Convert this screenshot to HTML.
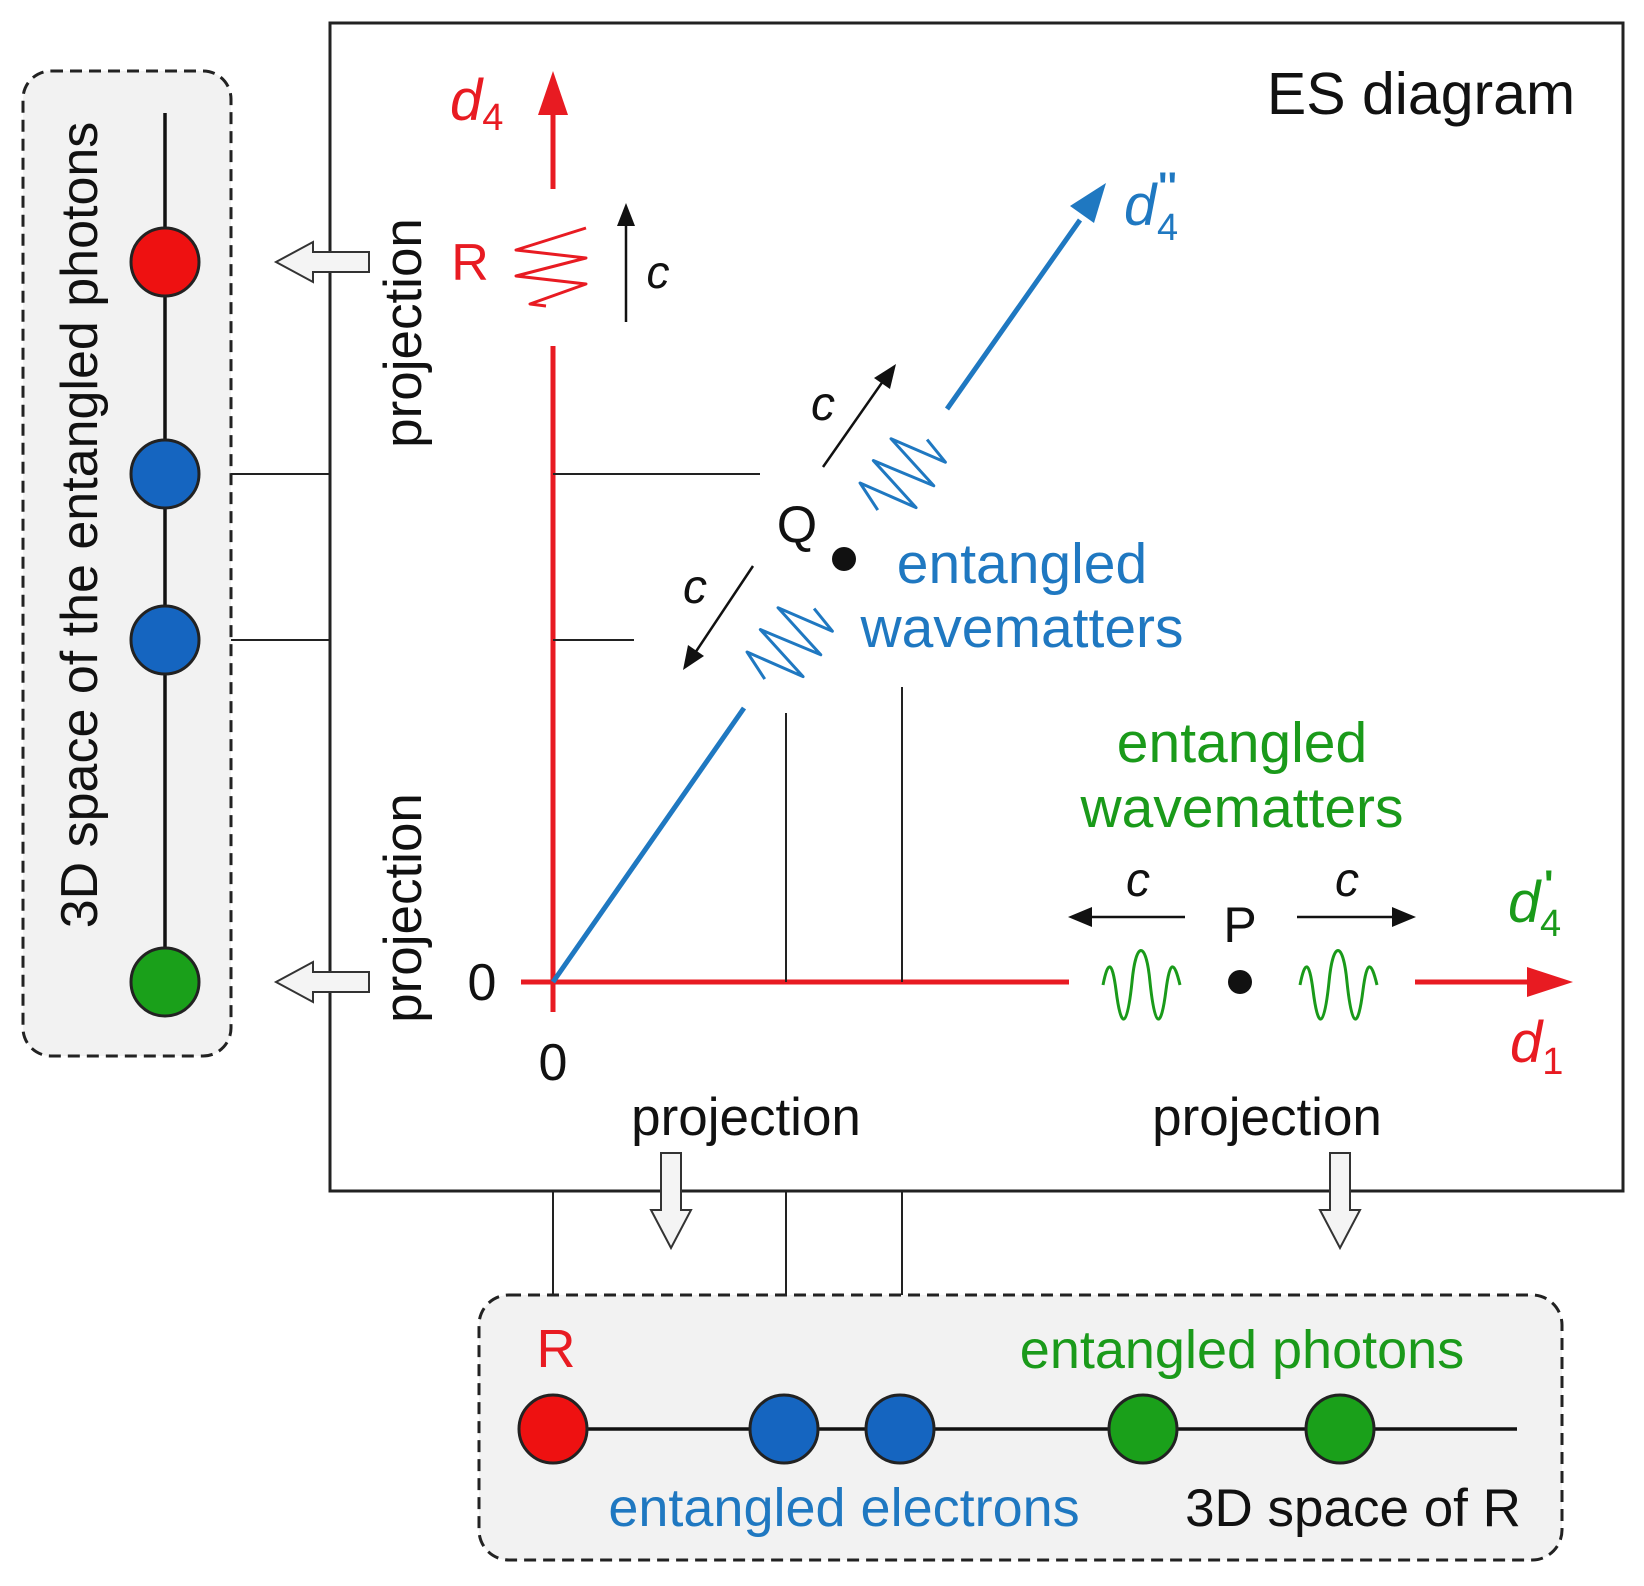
<!DOCTYPE html>
<html><head><meta charset="utf-8"><style>
html,body{margin:0;padding:0;background:#fff}
svg{display:block}
text{font-family:"Liberation Sans",Arial,sans-serif}
</style></head><body>
<svg width="1644" height="1586" viewBox="0 0 1644 1586" xmlns="http://www.w3.org/2000/svg">
<!-- main box -->
<rect x="330" y="23" width="1293" height="1168" fill="#fff" stroke="#222" stroke-width="3"/>
<!-- left dashed box -->
<rect x="23" y="71" width="208" height="985" rx="28" fill="#f2f2f2" stroke="#222" stroke-width="3" stroke-dasharray="12,7"/>
<line x1="165" y1="113" x2="165" y2="982" stroke="#111" stroke-width="3.5"/>
<circle cx="165" cy="262" r="34" fill="#ee1111" stroke="#222" stroke-width="3"/>
<circle cx="165" cy="474" r="34" fill="#1565c0" stroke="#222" stroke-width="3"/>
<circle cx="165" cy="640" r="34" fill="#1565c0" stroke="#222" stroke-width="3"/>
<circle cx="165" cy="982" r="34" fill="#1aa01a" stroke="#222" stroke-width="3"/>
<text transform="translate(97,525) rotate(-90)" text-anchor="middle" font-size="52" fill="#111">3D space of the entangled photons</text>
<!-- connectors left -->
<line x1="231" y1="474" x2="330" y2="474" stroke="#222" stroke-width="2"/>
<line x1="231" y1="640" x2="330" y2="640" stroke="#222" stroke-width="2"/>
<!-- hollow left arrows -->
<path d="M369,252 L313,252 L313,242 L276,262 L313,282 L313,272 L369,272 Z" fill="#f4f4f4" stroke="#333" stroke-width="2"/>
<path d="M369,972 L313,972 L313,962 L276,982 L313,1002 L313,992 L369,992 Z" fill="#f4f4f4" stroke="#333" stroke-width="2"/>
<text transform="translate(421,333) rotate(-90)" text-anchor="middle" font-size="53" fill="#111">projection</text>
<text transform="translate(421,908) rotate(-90)" text-anchor="middle" font-size="53" fill="#111">projection</text>
<!-- ES diagram -->
<text x="1421" y="114" text-anchor="middle" font-size="59" fill="#111">ES diagram</text>
<!-- red vertical axis -->
<line x1="553" y1="346" x2="553" y2="1012" stroke="#e81b22" stroke-width="5"/>
<line x1="553" y1="189" x2="553" y2="110" stroke="#e81b22" stroke-width="5"/>
<path d="M553,71 L538,115 L568,115 Z" fill="#e81b22"/>
<text x="450" y="120" font-size="58" font-style="italic" fill="#e81b22">d<tspan font-size="38" font-style="normal" dy="10">4</tspan></text>
<text x="470" y="280" text-anchor="middle" font-size="52" fill="#e81b22">R</text>
<path d="M586,228 L516,250 L586,258 L516,276 L586,284 L530,304 L546,306" fill="none" stroke="#e81b22" stroke-width="3" stroke-linejoin="round"/>
<line x1="626" y1="322" x2="626" y2="215" stroke="#111" stroke-width="2.5"/>
<path d="M626,203 L617,226 L635,226 Z" fill="#111"/>
<text x="658" y="288" text-anchor="middle" font-size="46" font-style="italic" fill="#111">c</text>
<!-- red horizontal axis -->
<line x1="521" y1="982" x2="1069" y2="982" stroke="#e81b22" stroke-width="5"/>
<line x1="1415" y1="982" x2="1530" y2="982" stroke="#e81b22" stroke-width="5"/>
<path d="M1573,982 L1527,967 L1527,997 Z" fill="#e81b22"/>
<text x="1508" y="922" font-size="58" font-style="italic" fill="#1a9a1a">d</text>
<text x="1540" y="936" font-size="38" fill="#1a9a1a">4</text>
<text x="1544" y="898" font-size="40" font-weight="bold" fill="#1a9a1a">'</text>
<text x="1510" y="1062" font-size="58" font-style="italic" fill="#e81b22">d<tspan font-size="38" font-style="normal" dy="12">1</tspan></text>
<text x="482" y="1000" text-anchor="middle" font-size="52" fill="#111">0</text>
<text x="553" y="1080" text-anchor="middle" font-size="52" fill="#111">0</text>
<!-- blue diagonal -->
<line x1="553" y1="982" x2="744" y2="708" stroke="#1f78c1" stroke-width="5"/>
<line x1="947" y1="409" x2="1080" y2="220" stroke="#1f78c1" stroke-width="5"/>
<path d="M1106,183 L1070,206 L1094,223 Z" fill="#1f78c1"/>
<text x="1124" y="225" font-size="58" font-style="italic" fill="#1f78c1">d</text>
<text x="1157" y="240" font-size="38" fill="#1f78c1">4</text>
<text x="1158" y="200" font-size="40" font-weight="bold" fill="#1f78c1">''</text>
<!-- blue waves -->
<g transform="translate(903,474) rotate(-55)">
<path d="M-44,0 L-32,-30 L-20,30 L-6,-32 L8,32 L22,-30 L34,28 L42,0" fill="none" stroke="#1f78c1" stroke-width="3" stroke-linejoin="round"/>
</g>
<g transform="translate(790,643) rotate(-55)">
<path d="M-44,0 L-32,-30 L-20,30 L-6,-32 L8,32 L22,-30 L34,28 L42,0" fill="none" stroke="#1f78c1" stroke-width="3" stroke-linejoin="round"/>
</g>
<!-- thin projection lines -->
<line x1="553" y1="474" x2="760" y2="474" stroke="#222" stroke-width="2"/>
<line x1="553" y1="640" x2="634" y2="640" stroke="#222" stroke-width="2"/>
<line x1="786" y1="713" x2="786" y2="982" stroke="#222" stroke-width="2"/>
<line x1="902" y1="687" x2="902" y2="982" stroke="#222" stroke-width="2"/>
<line x1="553" y1="1191" x2="553" y2="1295" stroke="#222" stroke-width="2"/>
<line x1="786" y1="1191" x2="786" y2="1295" stroke="#222" stroke-width="2"/>
<line x1="902" y1="1191" x2="902" y2="1295" stroke="#222" stroke-width="2"/>
<!-- Q -->
<text x="797" y="542" text-anchor="middle" font-size="52" fill="#111">Q</text>
<circle cx="844" cy="559" r="12" fill="#111"/>
<line x1="823" y1="467" x2="888" y2="374" stroke="#111" stroke-width="2.5"/>
<path d="M896,364 L874,378 L890,389 Z" fill="#111"/>
<text x="823" y="420" text-anchor="middle" font-size="48" font-style="italic" fill="#111">c</text>
<line x1="753" y1="566" x2="691" y2="659" stroke="#111" stroke-width="2.5"/>
<path d="M683,670 L688,645 L704,656 Z" fill="#111"/>
<text x="695" y="603" text-anchor="middle" font-size="48" font-style="italic" fill="#111">c</text>
<text x="1022" y="583" text-anchor="middle" font-size="57" fill="#1f78c1">entangled</text>
<text x="1022" y="647" text-anchor="middle" font-size="57" fill="#1f78c1">wavematters</text>
<!-- green -->
<text x="1242" y="762" text-anchor="middle" font-size="57" fill="#1a9a1a">entangled</text>
<text x="1242" y="827" text-anchor="middle" font-size="57" fill="#1a9a1a">wavematters</text>
<line x1="1185" y1="917" x2="1090" y2="917" stroke="#111" stroke-width="2.5"/>
<path d="M1068,917 L1092,907 L1092,927 Z" fill="#111"/>
<line x1="1297" y1="917" x2="1392" y2="917" stroke="#111" stroke-width="2.5"/>
<path d="M1416,917 L1392,907 L1392,927 Z" fill="#111"/>
<text x="1138" y="896" text-anchor="middle" font-size="48" font-style="italic" fill="#111">c</text>
<text x="1347" y="896" text-anchor="middle" font-size="48" font-style="italic" fill="#111">c</text>
<text x="1240" y="942" text-anchor="middle" font-size="50" fill="#111">P</text>
<circle cx="1240" cy="982" r="12" fill="#111"/>
<path d="M1103,985 C1108,960 1112,960 1116,990 C1121,1030 1127,1030 1132,982 C1136,940 1146,940 1150,982 C1155,1030 1161,1030 1166,990 C1170,960 1174,960 1180,985" fill="none" stroke="#1a9a1a" stroke-width="3"/>
<path d="M1300,985 C1305,960 1309,960 1313,990 C1318,1030 1324,1030 1329,982 C1333,940 1343,940 1347,982 C1352,1030 1358,1030 1363,990 C1367,960 1371,960 1377,985" fill="none" stroke="#1a9a1a" stroke-width="3"/>
<!-- bottom projection labels -->
<text x="746" y="1135" text-anchor="middle" font-size="53" fill="#111">projection</text>
<text x="1267" y="1135" text-anchor="middle" font-size="53" fill="#111">projection</text>
<path d="M661,1153 L681,1153 L681,1210 L691,1210 L671,1248 L651,1210 L661,1210 Z" fill="#f4f4f4" stroke="#333" stroke-width="2"/>
<path d="M1330,1153 L1350,1153 L1350,1210 L1360,1210 L1340,1248 L1320,1210 L1330,1210 Z" fill="#f4f4f4" stroke="#333" stroke-width="2"/>
<!-- bottom dashed box -->
<rect x="479" y="1295" width="1083" height="265" rx="30" fill="#f2f2f2" stroke="#222" stroke-width="3" stroke-dasharray="12,7"/>
<line x1="553" y1="1429" x2="1517" y2="1429" stroke="#111" stroke-width="3.5"/>
<circle cx="553" cy="1429" r="34" fill="#ee1111" stroke="#222" stroke-width="3"/>
<circle cx="784" cy="1429" r="34" fill="#1565c0" stroke="#222" stroke-width="3"/>
<circle cx="900" cy="1429" r="34" fill="#1565c0" stroke="#222" stroke-width="3"/>
<circle cx="1143" cy="1429" r="34" fill="#1aa01a" stroke="#222" stroke-width="3"/>
<circle cx="1340" cy="1429" r="34" fill="#1aa01a" stroke="#222" stroke-width="3"/>
<text x="556" y="1367" text-anchor="middle" font-size="54" fill="#e81b22">R</text>
<text x="1242" y="1368" text-anchor="middle" font-size="54" fill="#1a9a1a">entangled photons</text>
<text x="844" y="1526" text-anchor="middle" font-size="54" fill="#1f78c1">entangled electrons</text>
<text x="1353" y="1526" text-anchor="middle" font-size="53" fill="#111">3D space of R</text>
</svg>
</body></html>
